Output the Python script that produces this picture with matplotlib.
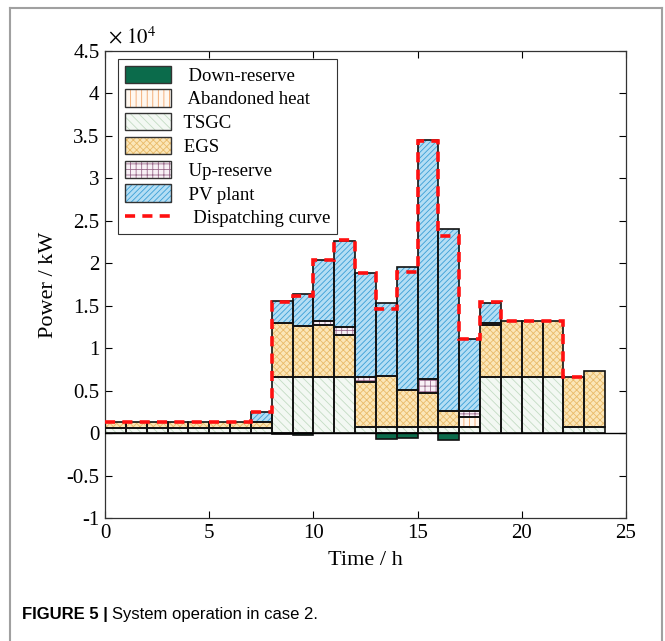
import numpy as np
import matplotlib
matplotlib.use("Agg")
import matplotlib.pyplot as plt
from matplotlib.patches import Patch
from matplotlib.lines import Line2D

# data (kW), one value per hour 0..23
hours = np.arange(24)
tsgc = [650]*8 + [6600]*4 + [700]*6 + [6550]*4 + [740, 740]
abandoned = [0]*17 + [1220] + [0]*6
egs = [610]*7 + [680, 6420, 6020, 6180, 4930, 5260, 6000, 4360, 4040, 1920, 0,
                 6230, 6620, 6620, 6620, 5810, 6550]
up_reserve = [0]*10 + [430, 980, 590, 0, 0, 1610, 0, 700, 240] + [0]*5
pv = [0]*7 + [1140, 2580, 3730, 7220, 10110, 12350, 8670, 14500, 28110, 21450,
              8430, 2350] + [0]*5
down_reserve = [0]*8 + [-150, -200, 0, 0, 0, -700, -600, 0, -800] + [0]*7
# dispatching curve, hours 0..22
dispatch = [1350]*7 + [2470, 15450, 16150, 20400, 22700, 18900, 14650, 19000,
                       34450, 23200, 11050, 15400, 13170, 13170, 13170, 6550]

plt.rcParams['font.family'] = ['Liberation Serif', 'DejaVu Serif']
plt.rcParams['mathtext.fontset'] = 'stix'
plt.rcParams['hatch.linewidth'] = 0.6

styles = {
    'Down-reserve':   dict(fc='#0b6b4b', hc='#0b6b4b', hatch=None),
    'Abandoned heat': dict(fc='#fff8f0', hc='#f2a468', hatch='|||'),
    'TSGC':           dict(fc='#f3f8f3', hc='#c4dcc4', hatch='\\\\\\\\'),
    'EGS':            dict(fc='#fbe6b8', hc='#e9bb6a', hatch='xxxxx'),
    'Up-reserve':     dict(fc='#f8f0f6', hc='#9a6a8c', hatch='+++'),
    'PV plant':       dict(fc='#b4def4', hc='#3a9fd6', hatch='//////'),
}

fig = plt.figure(figsize=(6.65, 6.41), dpi=100)
ax = fig.add_axes([105/665, 1-518/641, 521/665, 467/641])


def draw(vals, bottom, name):
    vals = np.array(vals, float)
    m = vals != 0
    st = styles[name]
    ax.bar(hours[m], vals[m], width=1.0, bottom=bottom[m], align='edge',
           facecolor=st['fc'], edgecolor=st['hc'], hatch=st['hatch'], lw=0, zorder=2)
    ax.bar(hours[m], vals[m], width=1.0, bottom=bottom[m], align='edge',
           facecolor='none', edgecolor='#111111', lw=1.2, zorder=3)


base = np.zeros(24)
for vals, name in [(tsgc, 'TSGC'), (abandoned, 'Abandoned heat'), (egs, 'EGS'),
                   (up_reserve, 'Up-reserve'), (pv, 'PV plant')]:
    draw(vals, base.copy(), name)
    base += np.array(vals, float)
draw(down_reserve, np.zeros(24), 'Down-reserve')

ax.axhline(0, color='black', lw=1.0, zorder=4)
ax.stairs(dispatch, np.arange(len(dispatch)+1), baseline=None, color='#ff1010',
          lw=2.6, linestyle=(0, (2.8, 2.0)), zorder=5)

ax.set_xlim(0, 25)
ax.set_ylim(-10000, 45000)
ax.set_xticks([0, 5, 10, 15, 20, 25])
yt = np.arange(-10000, 45001, 5000)
ax.set_yticks(yt)
ax.set_yticklabels(['%g' % (v/1e4) for v in yt])
ax.tick_params(direction='in', top=True, right=True, length=5, width=0.8,
               labelsize=15, pad=4)
for s in ax.spines.values():
    s.set_linewidth(0.9)
    s.set_color('#333333')
ax.set_xlabel('Time / h', fontsize=16, labelpad=6)
ax.set_ylabel('Power / kW', fontsize=16, labelpad=6)
ax.text(0.005, 1.005, r'$\times\ 10^{4}$', transform=ax.transAxes, fontsize=15,
        ha='left', va='bottom')

handles = []
labels = []
for name, lab in [('Down-reserve', '  Down-reserve'), ('Abandoned heat', '  Abandoned heat'),
                  ('TSGC', ' TSGC'), ('EGS', ' EGS'), ('Up-reserve', '  Up-reserve'),
                  ('PV plant', '  PV plant')]:
    st = styles[name]
    handles.append((Patch(facecolor=st['fc'], edgecolor=st['hc'], hatch=st['hatch'], lw=0),
                    Patch(facecolor='none', edgecolor='#333333', lw=1.0)))
    labels.append(lab)
handles.append(Line2D([], [], color='#ff1010', lw=2.6, linestyle=(0, (2.8, 2.0))))
labels.append('   Dispatching curve')
leg = ax.legend(handles, labels, loc='upper left', bbox_to_anchor=(0.025, 0.983),
                borderaxespad=0, fontsize=13.5, handlelength=2.5, handleheight=1.05,
                labelspacing=0.25, handletextpad=0.4, fancybox=False, framealpha=1,
                edgecolor='#333333', borderpad=0.35)
leg.get_frame().set_linewidth(0.8)

# outer frame of the figure panel
for xs, ys in [([10/665, 10/665], [0, 1-8/641]), ([10/665, 662/665], [1-8/641, 1-8/641]),
               ([662/665, 662/665], [1-8/641, 0])]:
    fig.add_artist(Line2D(xs, ys, color='#a0a0a0', lw=1.5, transform=fig.transFigure))

fig.canvas.draw()
t1 = fig.text(22/665, 1-615/641, 'FIGURE 5 |', fontsize=12, fontweight='bold',
              family='Liberation Sans', va='center', ha='left')
bb = t1.get_window_extent(fig.canvas.get_renderer())
fig.text((bb.x1 + 4)/665, 1-615/641, 'System operation in case 2.', fontsize=12,
         family='Liberation Sans', va='center', ha='left')

fig.savefig('out.png', dpi=100)
